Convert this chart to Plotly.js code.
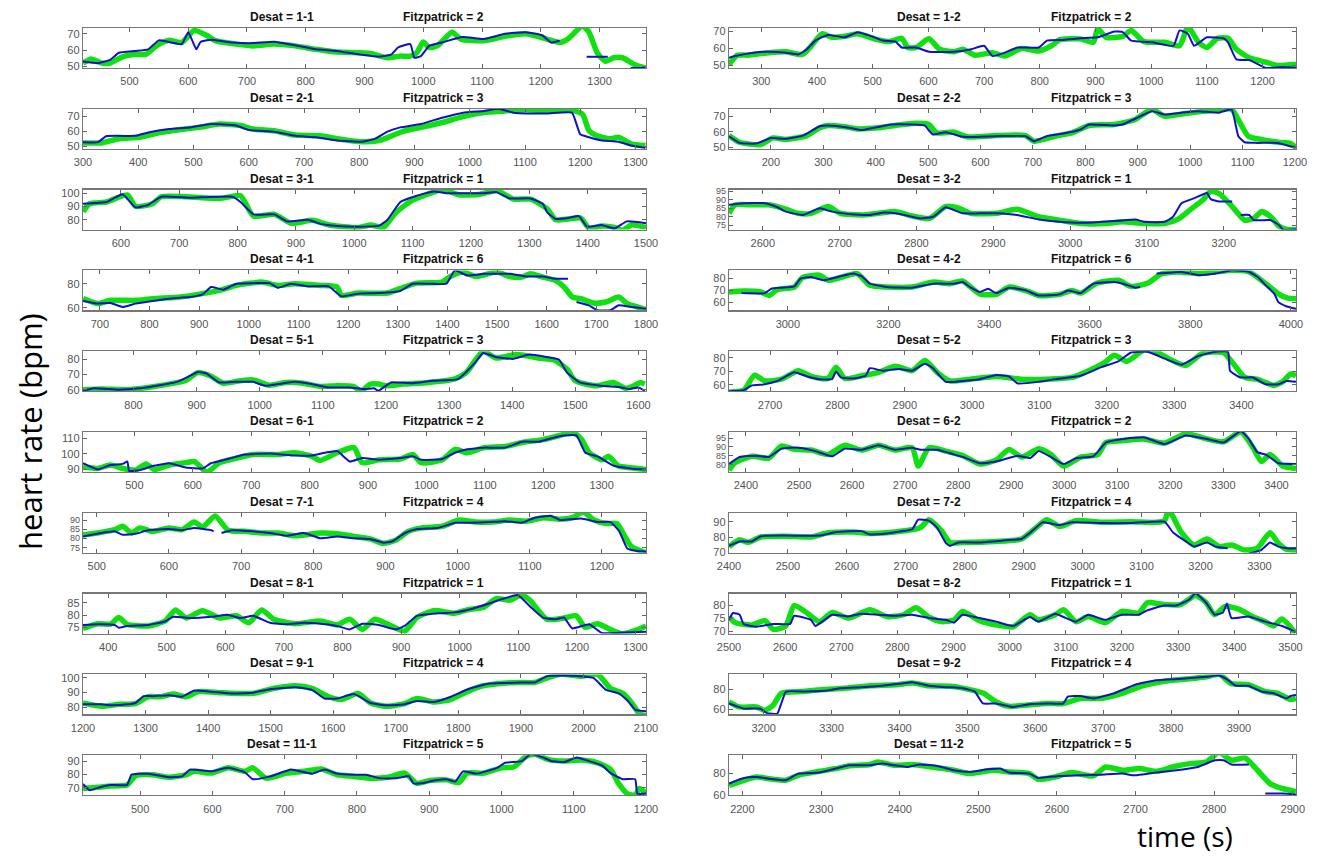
<!DOCTYPE html>
<html>
<head>
<meta charset="utf-8">
<script src="https://cdn.plot.ly/plotly-3.0.1.min.js"></script>
<style>html,body{margin:0;padding:0;background:#fff;}#chart{width:1319px;height:858px;}</style>
</head>
<body>
<div id="chart"></div>
<script>
// ---------- data: [time (s), heart rate (bpm)] ----------
const green_1_1 = [[421,52],[435,54.6],[453,52],[467,52],[489,56],[510,57.4],[528,57.4],[546,62.6],[567,66],[589,64.7],[610,72],[632,69],[646,65.8],[682,63.7],[710,62.6],[746,63.7],[782,62.6],[817,60.5],[853,58.8],[889,58.4],[910,58],[939,55.3],[960,56.3],[978,56.3],[989,58.4],[1000,65],[1010,61.6],[1024,62.6],[1049,71],[1064,66.8],[1103,65.8],[1139,68.5],[1174,70],[1210,66.8],[1232,64.7],[1246,66.8],[1271,74.8],[1282,71],[1296,58.4],[1310,53.1],[1324,55.3],[1339,55.3],[1360,51],[1378,49]];
const blue_1_1 = [[421,53],[446,52],[467,54],[482,58.4],[510,59.5],[532,60.5],[550,66],[567,65],[589,63.7],[600,71],[607,65.8],[614,60.5],[621,65],[639,66.4],[675,64.7],[710,64.3],[746,65.2],[782,63],[817,60.5],[853,59.5],[889,57.4],[925,56],[946,57.4],[957,61.6],[978,63.7],[985,55.3],[996,56.3],[1010,62.6],[1032,64.7],[1067,68],[1103,66.8],[1139,70],[1174,71],[1203,69],[1217,64.7],[1232,65.8],[1240,null],[1278,55.9],[1314,55.9],[1320,null],[1353,49],[1378,49]];
const green_2_1 = [[300,52.2],[334,52.2],[365,55],[403,56],[441,59.3],[471,61],[509,62.7],[547,65],[585,64],[608,61.6],[646,60.4],[684,57.5],[729,57],[760,55],[805,53],[836,53.8],[859,57],[882,60.4],[912,62.7],[950,66],[988,70],[1026,72.7],[1064,73.8],[1102,74.9],[1140,73.8],[1178,74.9],[1204,71.6],[1216,60.4],[1231,57],[1254,55],[1269,56],[1292,51.6],[1318,50.4]];
const blue_2_1 = [[300,52.7],[327,52.7],[342,56.7],[395,57],[418,59.3],[456,61.6],[494,62.7],[532,65],[577,64],[600,61],[646,59.8],[684,57],[722,56],[760,53.8],[805,53],[828,54.9],[851,59.8],[874,62.7],[912,65],[950,69.3],[988,72.7],[1026,73.8],[1052,75.3],[1079,72.7],[1140,72.2],[1185,72.7],[1200,58],[1216,56],[1239,53.8],[1269,53],[1292,50.4],[1318,48.7]];
const green_3_1 = [[535,85.9],[546,92],[575,93.3],[611,98.7],[625,90.1],[654,92],[669,97.3],[712,97.3],[770,96],[805,98.1],[827,82.7],[863,84],[892,77.3],[928,79.5],[957,76],[1007,74.1],[1028,76],[1050,74.1],[1071,85.3],[1100,94.7],[1136,100.8],[1151,102.7],[1180,98.7],[1216,99.2],[1244,101.9],[1273,95.5],[1302,95.5],[1331,88],[1345,80],[1367,80.5],[1388,81.3],[1403,73.3],[1424,75.2],[1446,74.1],[1460,72],[1475,76],[1500,74.1]];
const blue_3_1 = [[535,92],[575,93.3],[589,96.5],[603,99.2],[625,89.3],[647,91.2],[669,97.3],[719,96.5],[791,97.3],[805,93.3],[827,84],[863,84],[885,78.7],[921,80],[942,76.8],[971,75.2],[1007,74.7],[1043,75.5],[1057,80],[1079,93.3],[1107,98.1],[1136,101.3],[1158,100],[1187,100],[1223,100],[1244,100.8],[1266,96],[1302,96],[1323,92],[1331,85.3],[1345,80.5],[1367,81.3],[1385,82.7],[1399,74.7],[1424,76],[1446,73.3],[1467,78.7],[1500,77.3]];
const green_4_1 = [[666,67.7],[696,63.6],[721,66.3],[772,66.3],[806,67.7],[861,69],[898,71.2],[941,74.5],[975,78.6],[1026,81.4],[1059,78.6],[1093,80],[1144,78.6],[1178,77.3],[1186,70.4],[1220,72.3],[1279,72.3],[1313,77.3],[1339,80.5],[1389,81.4],[1406,86],[1432,89.6],[1457,86],[1499,89.6],[1525,86],[1550,85.5],[1567,88.2],[1592,85.5],[1618,82.7],[1635,77.3],[1652,69],[1669,67.7],[1694,64.1],[1719,64.9],[1745,69],[1762,63.6],[1779,61.4],[1800,58.6]];
const blue_4_1 = [[666,65.8],[696,63.6],[721,64.1],[746,60.8],[772,63.6],[806,65.8],[839,67.7],[882,69],[907,71.2],[924,77.3],[949,75.1],[975,80],[1009,80.5],[1042,80.5],[1059,76.7],[1085,80],[1119,77.8],[1161,77.8],[1186,69.6],[1220,71.8],[1262,72.3],[1305,74],[1330,80],[1364,80],[1398,80],[1415,91],[1440,86.8],[1474,88.2],[1499,88.2],[1525,88.2],[1558,86],[1592,86],[1618,84.1],[1643,84.1],[1650,null],[1660,65],[1685,62.2],[1702,58.1],[1728,58.1],[1745,62.2],[1770,60.8],[1800,59.5]];
const green_5_1 = [[720,60],[750,60.4],[790,60],[823,61.5],[856,63.7],[882,65.9],[902,71.3],[922,69.1],[942,64.3],[969,65.9],[989,66.5],[1015,63],[1042,64.8],[1069,64.3],[1095,62.2],[1122,62.6],[1148,62.2],[1161,59.3],[1175,63.7],[1188,63.7],[1201,62.6],[1228,63.7],[1268,64.8],[1308,67],[1327,71.3],[1354,85.4],[1374,81],[1407,83.3],[1441,81],[1467,79.6],[1487,73.5],[1500,65.9],[1533,62.6],[1560,64.8],[1580,60.9],[1593,62.6],[1603,64.8],[1610,63.7]];
const blue_5_1 = [[720,59.3],[737,60.9],[776,60],[810,60.9],[836,62.6],[869,65.2],[889,69.1],[902,71.7],[915,70.9],[936,64.8],[962,65.2],[989,65.2],[1009,62.6],[1029,63.7],[1055,65.2],[1082,63.7],[1108,61.5],[1142,61.5],[1168,60.4],[1181,60.9],[1188,59.3],[1208,64.8],[1241,64.3],[1274,65.9],[1314,67],[1341,77.8],[1354,84.3],[1374,81.7],[1401,80.4],[1427,83.3],[1454,81.7],[1474,80],[1487,71.3],[1507,64.8],[1540,62.6],[1573,61.5],[1586,60.4],[1600,61.5],[1610,59.3]];
const green_6_1 = [[412,91.8],[437,90.7],[459,92.9],[480,90.7],[502,89.6],[520,93.6],[534,90],[560,92.9],[588,94.4],[603,95.1],[624,88.4],[646,94.4],[675,97.3],[703,99.6],[746,99.6],[775,100.7],[804,98.4],[818,95.8],[847,100.7],[876,104],[890,94.4],[919,96.2],[955,96.7],[977,99.6],[991,94.4],[1027,96.2],[1049,102.9],[1070,100.7],[1099,104],[1135,104.7],[1164,107.3],[1200,109.1],[1229,111.8],[1250,114],[1265,109.6],[1279,100.7],[1301,96.2],[1312,98.4],[1329,92.2],[1350,91.1],[1376,90]];
const blue_6_1 = [[412,94],[437,90],[459,92.9],[480,93.6],[488,95.1],[491,89.1],[509,89.6],[531,92.2],[560,94],[588,91.3],[617,90.7],[631,94],[660,96.7],[689,99.6],[732,100.2],[775,98.9],[804,98.9],[826,100.7],[847,101.8],[869,95.1],[890,97.3],[919,96.2],[955,97.3],[977,98.4],[991,96.2],[1027,96.7],[1049,100.7],[1070,102.9],[1099,104],[1135,104],[1164,107.8],[1193,107.8],[1221,110.7],[1236,111.8],[1257,111.8],[1272,100.7],[1293,98.4],[1322,92.2],[1350,90.7],[1376,90]];
const green_7_1 = [[481,81.9],[501,82.9],[525,84.7],[536,86.6],[548,82.9],[560,85.7],[577,83.8],[600,85.7],[618,84.7],[635,88.9],[647,86.2],[664,92.3],[682,84.4],[705,83.8],[729,82.9],[752,82.9],[775,81.4],[810,82.9],[833,82.5],[857,81],[880,79.5],[897,77.2],[915,79.1],[932,83.8],[950,85.7],[979,86.6],[1002,90],[1025,88.9],[1049,88.9],[1072,90],[1095,89.4],[1119,91.3],[1142,90.4],[1159,91.3],[1174,94.5],[1189,90],[1206,88.1],[1221,88.1],[1229,82.9],[1241,75.4],[1261,72]];
const blue_7_1 = [[481,81],[507,82.9],[525,83.8],[536,81.9],[554,82.5],[571,84.4],[600,85.1],[618,84.4],[635,85.7],[659,84.4],[662,83.8],[667,null],[673,82.9],[688,84.4],[717,83.8],[740,82.9],[763,81.4],[787,82.9],[810,80],[833,81],[857,80],[880,79.5],[897,77.6],[909,78.2],[927,82.9],[944,85.1],[973,85.7],[997,88.5],[1020,88.5],[1043,88.9],[1066,89.4],[1089,88.5],[1107,91.3],[1130,92.3],[1142,90],[1171,90.8],[1194,88.9],[1212,88.9],[1224,83.8],[1235,74.4],[1247,73.1],[1261,72.6]];
const green_8_1 = [[357,74.6],[382,76.5],[404,76.3],[418,79],[432,76.3],[468,75.6],[497,77.6],[515,82.1],[533,78.8],[561,81.8],[590,78.8],[619,79.7],[640,76.9],[662,82.1],[683,78.3],[719,76.5],[762,77.6],[791,76],[812,78.3],[834,74.2],[855,78.3],[884,75.6],[906,73.5],[927,79],[956,81.8],[991,80.7],[1013,82.1],[1041,83.2],[1063,86.7],[1085,86],[1106,88.1],[1120,86],[1149,78.3],[1178,78.8],[1199,79.7],[1214,75.1],[1235,76.5],[1257,74.2],[1278,72.4],[1300,73.8],[1318,75.6]];
const blue_8_1 = [[357,76],[382,76.3],[411,76],[418,74.9],[432,75.6],[468,76],[497,77.4],[511,79.3],[540,78.8],[576,79.3],[604,80.1],[626,78.8],[647,79.7],[676,76.9],[705,76.3],[733,76.9],[762,76.5],[791,75.6],[812,74.2],[834,76.5],[862,76],[891,74.2],[906,75.6],[927,79.7],[963,80.7],[991,81.1],[1020,82.5],[1049,84.6],[1070,86.3],[1099,88.1],[1120,83.5],[1142,79],[1164,78.3],[1178,79],[1192,74.6],[1221,76.3],[1242,72.8],[1271,72.8],[1318,73.2]];
const green_9_1 = [[1200,82.8],[1230,80.5],[1257,81.9],[1284,82.4],[1304,87.1],[1324,87.1],[1344,88.9],[1365,87.1],[1385,90.6],[1418,89.9],[1445,89.4],[1472,89.4],[1506,92.9],[1539,94.6],[1566,92.9],[1593,87.1],[1613,85.2],[1640,89.4],[1660,82.8],[1687,80.5],[1714,82.4],[1734,85.9],[1761,83.5],[1788,85.2],[1808,89.4],[1835,94.1],[1862,96],[1896,96.9],[1922,96.9],[1942,100],[1962,102.4],[1996,101.2],[2023,102.4],[2043,92.9],[2063,89.4],[2076,83.5],[2090,75.3],[2100,74.1]];
const blue_9_1 = [[1200,81.9],[1230,81.9],[1244,81.2],[1271,81.9],[1284,82.8],[1297,87.5],[1311,87.5],[1338,88.2],[1358,87.1],[1378,91.3],[1405,90.6],[1438,89.4],[1472,89.9],[1499,92.2],[1539,93.6],[1566,91.8],[1586,85.9],[1606,85.9],[1633,88.9],[1660,82.8],[1687,81.2],[1714,81.9],[1734,84.2],[1761,83.5],[1788,87.1],[1815,92.2],[1848,96],[1875,96.5],[1902,96.9],[1922,96.9],[1942,101.2],[1969,101.6],[1996,101.2],[2016,100],[2036,91.8],[2056,89.4],[2070,84.7],[2083,78.1],[2100,77.2]];
const green_11_1 = [[421,69.5],[441,70.3],[459,71.3],[482,72.1],[494,79],[517,79.7],[540,77.9],[563,79.7],[575,82.3],[598,81],[622,84.9],[645,82.3],[656,84.9],[674,77.2],[703,81],[727,82.3],[750,84.1],[773,79.7],[796,78.5],[819,77.2],[843,77.9],[866,81],[883,73.3],[901,75.4],[924,75.9],[941,73.8],[953,81],[976,81],[1000,84.9],[1017,85.6],[1035,93.8],[1047,95.1],[1064,91.3],[1087,90],[1110,90.8],[1133,88.7],[1151,83.6],[1162,73.3],[1174,65.6],[1185,64.4],[1191,69.5],[1200,65.6]];
const blue_11_1 = [[421,72.8],[430,68.2],[447,70.8],[459,72.1],[482,72.1],[488,79.7],[511,80.5],[540,77.9],[558,78.5],[569,83.6],[598,82.3],[622,84.9],[645,81.5],[656,76.4],[680,78.5],[709,83.6],[738,80.5],[755,83.6],[773,80.5],[796,79.7],[813,79.7],[831,77.2],[854,77.2],[872,78.5],[878,73.3],[889,73.3],[907,75.4],[924,76.4],[936,74.6],[947,82.3],[965,80.5],[994,84.9],[1005,88.7],[1028,90],[1040,95.1],[1058,92.6],[1069,90],[1087,89.2],[1104,92.6],[1121,90],[1139,86.7],[1151,81],[1168,76.4],[1185,76.4],[1188,65.6],[1200,65.6]];

const green_1_2 = [[242,50.6],[257,56],[276,56],[314,57.5],[344,58],[374,56.5],[390,61.5],[409,68.4],[427,66.4],[450,67],[473,68.4],[503,65.5],[530,63.9],[552,65.8],[563,60.5],[578,60.5],[601,65.5],[620,59.5],[646,58],[662,59.5],[684,56],[715,57.5],[737,55.5],[767,59.9],[798,58.5],[821,61.5],[836,65],[873,65.5],[896,63.5],[904,71.4],[919,66.4],[949,67],[964,70.4],[987,63.9],[1025,63.5],[1051,61.5],[1066,72.4],[1085,63.5],[1100,60.5],[1119,65.8],[1138,65.8],[1153,59.5],[1176,54.5],[1206,52],[1228,50],[1251,50.6],[1260,50.6]];
const blue_1_2 = [[242,54.6],[253,55.5],[268,56.5],[306,58],[344,57.5],[367,56.5],[382,59.5],[397,64.5],[420,67.8],[450,66.4],[473,69.4],[495,67.4],[518,64.5],[541,63.9],[552,60.5],[578,60.5],[601,58],[646,58],[677,59.5],[700,61.5],[715,55.5],[737,57.5],[760,60.5],[798,60.5],[813,64.5],[843,64.9],[873,65.8],[904,66.4],[934,69.8],[949,69.4],[964,64.5],[1002,63.5],[1040,61.5],[1051,70.4],[1066,68.4],[1077,61.5],[1100,66.4],[1130,65.8],[1138,63.5],[1153,53.6],[1176,53.2],[1206,48.6],[1236,49.2],[1260,48.6]];
const green_2_2 = [[120,57.5],[140,53.2],[180,51.7],[204,56],[228,55],[269,57.5],[293,62.5],[309,64],[341,63.1],[365,61.8],[405,62.5],[437,64],[469,65.3],[501,64.6],[517,59.2],[550,59.7],[574,56.7],[630,57.5],[686,57.5],[702,53.9],[742,57.1],[774,59.2],[807,64],[855,64.6],[895,67.8],[927,74.3],[951,70],[991,71.7],[1031,73.2],[1079,74.3],[1095,65.7],[1111,57.1],[1135,55],[1168,53.2],[1192,52.4],[1202,49.6]];
const blue_2_2 = [[120,57],[140,52.8],[172,52.4],[200,56],[228,55.4],[261,57.5],[293,63.5],[309,64],[349,62.5],[373,61],[429,64.6],[469,64.6],[493,64],[509,58.2],[534,59.7],[566,56.7],[630,57.1],[686,57.1],[702,53.9],[726,57.1],[758,58.8],[791,61.4],[807,64.6],[855,64],[871,64.6],[895,68.3],[927,73.2],[951,71],[983,72.2],[1015,73.2],[1055,72.2],[1079,74.3],[1092,57.1],[1104,53.2],[1128,52.8],[1168,52.8],[1202,49.6]];
const green_3_2 = [[2556,82],[2564,87],[2586,87],[2608,87],[2630,84.4],[2646,82],[2663,82],[2685,86],[2701,82],[2729,81],[2751,82],[2773,83],[2795,80.4],[2817,79],[2838,86],[2855,85],[2871,82],[2904,82],[2931,84.4],[2959,80],[2986,78],[3014,76],[3047,76],[3068,77],[3096,76],[3123,76],[3140,78.4],[3156,84],[3173,90],[3183,95],[3194,93.6],[3211,86],[3227,78],[3239,79],[3249,83],[3261,80],[3272,74.4],[3283,72.4],[3294,72.4]];
const blue_3_2 = [[2556,87],[2575,88],[2603,88],[2619,85.6],[2630,83],[2652,81],[2674,85],[2690,83],[2712,81.6],[2740,81],[2756,82.4],[2778,81.6],[2805,79],[2822,80],[2838,85.6],[2860,82],[2882,82],[2904,82],[2931,81],[2959,78.4],[2986,77],[3014,76.4],[3041,77],[3063,77.6],[3085,78.4],[3096,77],[3123,77],[3134,80],[3145,88],[3162,91],[3178,94],[3183,90.4],[3194,89],[3211,89],[3216,null],[3222,81],[3233,81],[3239,78],[3261,78],[3272,75],[3277,72.4],[3294,72.4]];
const green_4_2 = [[2883,68.6],[2912,69.4],[2946,68.6],[2963,65.7],[2979,70.6],[3013,72.9],[3029,80.9],[3063,82.9],[3080,78.6],[3113,82],[3138,84.3],[3163,74.3],[3197,72.9],[3247,72.9],[3289,77.1],[3322,75.7],[3347,78],[3381,67.1],[3414,66.6],[3440,72.9],[3481,68.6],[3498,65.7],[3540,66.6],[3565,70],[3582,67.7],[3615,76.3],[3657,78.6],[3682,73.4],[3716,76.3],[3741,83.7],[3774,85.7],[3817,84.3],[3850,85.7],[3883,87.1],[3917,85.7],[3950,75.7],[3975,67.1],[3992,63.7],[4010,62.9]];
const blue_4_2 = [[2908,67.7],[2954,67.7],[2967,71.4],[2988,72.3],[3013,73.4],[3025,80],[3046,81.4],[3071,78.6],[3105,82],[3130,84.3],[3147,82],[3163,75.7],[3197,72.9],[3247,72.3],[3289,75.7],[3331,75.7],[3347,77.1],[3364,72.3],[3381,68.6],[3398,71.4],[3414,67.7],[3440,72.3],[3473,70],[3498,65.7],[3540,66.6],[3557,70],[3582,67.7],[3607,75.7],[3649,77.1],[3666,75.7],[3691,72.3],[3700,72.9],[3716,null],[3733,84.3],[3783,85.7],[3817,82.9],[3850,84.3],[3883,87.1],[3917,85.7],[3934,81.4],[3950,74.3],[3967,67.1],[3975,60],[3992,56.3],[4010,54.3]];
const green_5_2 = [[2639,54.7],[2661,56.2],[2677,67.3],[2692,63],[2717,64.3],[2742,70.6],[2761,66.3],[2786,64.8],[2798,73.2],[2811,64.8],[2836,66.8],[2861,69.4],[2886,73.9],[2911,70.6],[2930,78.2],[2948,69.4],[2967,63],[2998,64.3],[3036,66.3],[3073,64.3],[3111,64.3],[3148,65.6],[3173,70.6],[3198,77],[3211,82],[3230,77.5],[3255,85.8],[3273,84.6],[3292,79.5],[3317,74.4],[3342,83.3],[3373,84],[3386,77],[3405,65.6],[3423,64.3],[3436,61.8],[3448,59.7],[3461,62.3],[3473,68.1],[3481,66.8]];
const blue_5_2 = [[2639,55.4],[2661,56.2],[2673,59.7],[2692,60.5],[2711,63],[2736,69.4],[2755,66.3],[2773,64.3],[2792,64.3],[2798,69.9],[2805,65.6],[2823,64.8],[2842,66.8],[2848,72.4],[2867,70.6],[2892,71.9],[2911,70.6],[2930,75.7],[2942,72.4],[2961,62.3],[2986,63],[3011,64.3],[3036,67.3],[3055,66.3],[3067,61.3],[3098,62.3],[3123,64.3],[3161,66.8],[3192,73.2],[3217,77.5],[3236,84],[3261,84.6],[3286,79.5],[3311,75],[3336,81.5],[3361,84.6],[3380,84.6],[3383,70.6],[3398,65.6],[3417,65.6],[3436,60.5],[3455,60.5],[3467,63],[3481,62.3]];
const green_6_2 = [[2368,76.6],[2380,81],[2412,84.6],[2443,83.6],[2467,90.6],[2491,88.6],[2523,88.2],[2554,85.6],[2586,91],[2618,88.2],[2650,91],[2681,88.2],[2713,89.6],[2725,79],[2745,89.6],[2777,87.6],[2809,85],[2841,80.2],[2872,82.6],[2896,88.6],[2920,84.2],[2952,89],[2975,85.6],[2999,79],[3031,84.2],[3063,85.6],[3079,92.6],[3110,93.6],[3150,94.6],[3189,92.2],[3229,97.6],[3269,94.6],[3301,93],[3333,98.6],[3356,89.6],[3372,81.6],[3388,85.6],[3412,79],[3437,77.6]];
const blue_6_2 = [[2368,80.2],[2388,84.2],[2420,85],[2443,84.2],[2467,89],[2499,89.6],[2531,87.6],[2563,84.6],[2586,89],[2618,88.4],[2650,91],[2681,88.4],[2713,89.6],[2729,88.4],[2761,88.4],[2793,85.6],[2809,84.2],[2841,80.6],[2872,81.6],[2912,85],[2936,83.6],[2952,87.6],[2975,84.2],[2999,80.2],[3023,83.6],[3055,84.6],[3079,92.6],[3110,94.6],[3150,95.6],[3189,91.6],[3229,96.6],[3269,94.6],[3301,92.6],[3333,99],[3348,94.6],[3364,87],[3380,85.6],[3404,80.6],[3437,80.2]];
const green_7_2 = [[2400,73.8],[2418,78.3],[2432,76.5],[2454,80.1],[2496,80.6],[2539,80.1],[2568,82.8],[2611,83.3],[2639,82.4],[2682,83.3],[2725,86.2],[2739,91.3],[2761,83.9],[2775,76.5],[2796,76.5],[2853,77.2],[2896,78.8],[2918,85.1],[2939,91.3],[2961,86.9],[2989,90.7],[3032,89.6],[3082,90],[3125,89.6],[3139,90.7],[3146,97.4],[3168,82.8],[3189,74.9],[3211,78.8],[3232,73.8],[3253,74.9],[3275,71.6],[3296,72.7],[3318,82.8],[3332,76.1],[3346,72],[3362,71.6]];
const blue_7_2 = [[2400,74.3],[2418,77.2],[2439,77.2],[2454,80.6],[2496,81],[2554,81],[2582,83.3],[2625,83.9],[2639,81.7],[2668,82.4],[2696,83.9],[2711,85.1],[2721,91.3],[2739,90.7],[2753,86.2],[2768,76.1],[2775,74.3],[2789,76.5],[2825,76.5],[2868,77.9],[2896,78.8],[2911,82.8],[2932,89.6],[2961,87.8],[2982,89.6],[3032,89.1],[3082,89.1],[3118,90],[3139,90],[3154,82.8],[3175,77.2],[3189,73.8],[3211,76.5],[3225,73.8],[3246,72.7],[3260,null],[3282,69.3],[3303,71.6],[3318,76.5],[3332,73.8],[3346,72.7],[3362,72.7]];
const green_8_2 = [[2500,75.7],[2511,73.3],[2541,72.4],[2564,74.1],[2579,70.7],[2601,72],[2616,80],[2639,77.1],[2661,73.7],[2684,77.3],[2713,75.1],[2751,78.4],[2781,75.7],[2811,76.4],[2833,79.1],[2856,75.5],[2878,73.7],[2901,74.4],[2916,77.7],[2946,74.1],[2976,72.4],[3006,71.7],[3036,76.4],[3051,74.4],[3081,76.4],[3096,78.4],[3118,73.7],[3140,75.7],[3170,73.3],[3200,77.7],[3230,77.1],[3245,81.1],[3275,80.4],[3305,80.4],[3331,84],[3350,81.1],[3365,76.4],[3384,79.7],[3410,78.4],[3432,75.7],[3455,73.7],[3470,72],[3485,74.7],[3509,69.1]];
const blue_8_2 = [[2500,74.4],[2507,77.1],[2519,76.4],[2526,72.8],[2549,71.7],[2579,72.8],[2609,72.8],[2616,76],[2646,74.4],[2654,72],[2684,76.4],[2713,75.7],[2736,76.8],[2766,76.4],[2796,76],[2826,76.4],[2856,75.1],[2886,74.4],[2901,73.3],[2916,76.4],[2946,75.1],[2976,73.7],[3006,72],[3036,75.5],[3051,73.7],[3081,76.8],[3096,75.5],[3118,73.7],[3140,76.4],[3170,74.4],[3200,76.4],[3230,76.4],[3245,78.1],[3275,80],[3297,80],[3320,82.4],[3331,84.8],[3350,81.1],[3365,76.4],[3380,77.3],[3387,80.8],[3395,75.1],[3425,75.7],[3455,73.7],[3485,72],[3509,69.7]];
const green_9_2 = [[3149,67.5],[3164,62.4],[3189,62.4],[3202,59],[3214,64.1],[3226,75.9],[3257,77.6],[3295,80],[3319,81],[3357,83.4],[3396,84.4],[3419,86.1],[3443,83.4],[3480,82.7],[3505,79.3],[3524,75.9],[3542,67.5],[3561,63],[3586,64.1],[3617,65.8],[3641,65.8],[3666,70.8],[3697,70.8],[3728,75.9],[3759,83.4],[3790,87.8],[3827,90.2],[3852,92.2],[3871,94.6],[3889,85.4],[3914,84.4],[3939,77.6],[3957,75.9],[3976,69.8],[3984,70.8]];
const blue_9_2 = [[3149,65.8],[3171,60.7],[3195,60.7],[3205,56.3],[3220,55.6],[3226,65.8],[3233,77.6],[3264,77.6],[3295,78.6],[3313,81],[3344,82],[3375,83.4],[3400,85.4],[3419,86.8],[3443,83.4],[3468,82],[3493,81],[3511,77.6],[3523,65.8],[3542,65.8],[3567,62.4],[3592,65.1],[3617,65.8],[3641,65.8],[3648,72.5],[3666,73.2],[3685,70.8],[3716,75.9],[3747,84.4],[3778,88.8],[3815,90.2],[3852,92.2],[3871,93.6],[3883,89.5],[3895,83.4],[3914,83.4],[3933,77.6],[3951,75.9],[3970,70.8],[3976,73.2],[3984,74.2]];
const green_11_2 = [[2183,68.9],[2202,73.7],[2218,76.8],[2239,74.6],[2255,73.7],[2271,78.4],[2298,82.2],[2319,84.8],[2335,87.3],[2362,88.6],[2372,91.1],[2393,87.9],[2415,88.6],[2441,86.3],[2469,83.2],[2490,80],[2517,83.2],[2539,81.6],[2565,80],[2576,74.6],[2597,76.8],[2619,81],[2646,77.8],[2662,86.3],[2683,83.2],[2705,84.8],[2726,82.2],[2747,86.3],[2769,89.5],[2790,91.1],[2806,100],[2822,92.7],[2839,94.9],[2855,83.2],[2871,70.5],[2887,65.7],[2898,64.1],[2904,62.5]];
const blue_11_2 = [[2183,70.5],[2202,75.9],[2218,76.8],[2234,75.2],[2255,73.7],[2271,80],[2298,81],[2319,84.8],[2335,87.9],[2362,87.9],[2378,89.5],[2393,87.9],[2409,86.3],[2426,88.6],[2448,87.3],[2469,83.2],[2490,81.6],[2512,84.1],[2528,84.8],[2539,81],[2565,80],[2576,75.9],[2603,77.8],[2630,78.4],[2656,79],[2683,80],[2699,78.4],[2726,81],[2752,83.2],[2779,86.3],[2801,92.7],[2812,92.7],[2822,88.6],[2844,88.6],[2855,null],[2865,61],[2887,61],[2904,60]];

// ---------- labels ----------
const desatLeft = ['1-1','2-1','3-1','4-1','5-1','6-1','7-1','8-1','9-1','11-1'];
const desatRight = ['1-2','2-2','3-2','4-2','5-2','6-2','7-2','8-2','9-2','11-2'];
const fitzpatrick = [2,3,1,6,3,2,4,1,4,5];
const greenLeft = [green_1_1,green_2_1,green_3_1,green_4_1,green_5_1,green_6_1,green_7_1,green_8_1,green_9_1,green_11_1];
const blueLeft = [blue_1_1,blue_2_1,blue_3_1,blue_4_1,blue_5_1,blue_6_1,blue_7_1,blue_8_1,blue_9_1,blue_11_1];
const greenRight = [green_1_2,green_2_2,green_3_2,green_4_2,green_5_2,green_6_2,green_7_2,green_8_2,green_9_2,green_11_2];
const blueRight = [blue_1_2,blue_2_2,blue_3_2,blue_4_2,blue_5_2,blue_6_2,blue_7_2,blue_8_2,blue_9_2,blue_11_2];
const yTicksLeft = [[50,60,70],[50,60,70],[80,90,100],[60,80],[60,70,80],[90,100,110],[75,80,85,90],[75,80,85],[80,90,100],[70,80,90]];
const yTicksRight = [[50,60,70],[50,60,70],[75,80,85,90,95],[60,70,80],[60,70,80],[80,85,90,95],[70,80,90],[70,75,80],[60,80],[60,80]];

// ---------- axis view settings ----------
const xRangeLeft = [[421,1379],[300,1319],[535,1500],[666,1800],[720,1612],[412,1376],[481,1261],[357,1318],[1200,2100],[421,1200]];
const xRangeRight = [[242,1260],[120,1202],[2556,3294],[2883,4010],[2639,3481],[2368,3437],[2400,3362],[2500,3510],[3149,3984],[2183,2904]];
const yRangeLeft = [[49,73.6],[48.2,75.3],[72.5,102.7],[58,91],[59,85.5],[88.4,114],[72,94],[72.5,88.7],[75,102.4],[64.4,94.4]];
const yRangeRight = [[48.6,71.8],[49,74.7],[72.4,96],[53,87],[55.4,85],[75.6,98.6],[69.8,95.8],[69,84.7],[55,94.6],[59.5,97.5]];
const xDtickRight = [100,100,100,200,100,100,100,100,100,100];

const W = 1319, H = 858;
const colX = [[83, 646], [729, 1296]];
const traces = [];
const layout = {
  width: W, height: H,
  margin: {l:0, r:0, t:0, b:0},
  paper_bgcolor: '#fff', plot_bgcolor: '#fff',
  showlegend: false,
  annotations: []
};
const tickFont = {family: 'Liberation Sans, Arial, sans-serif', size: 11, color: '#555'};
const tickFontSmall = {family: 'Liberation Sans Narrow, Liberation Sans, Arial, sans-serif', size: 9, color: '#555'};
let n = 0;
for (let col = 0; col < 2; col++) {
  for (let r = 0; r < 10; r++) {
    n++;
    const sfx = n === 1 ? '' : String(n);
    const green = col === 0 ? greenLeft[r] : greenRight[r];
    const blue = col === 0 ? blueLeft[r] : blueRight[r];
    traces.push({type:'scatter', mode:'lines', x: green.map(d=>d[0]), y: green.map(d=>d[1]),
      xaxis:'x'+sfx, yaxis:'y'+sfx, line:{color:'#10e010', width:5.5, shape:'spline', smoothing:0.6}, hoverinfo:'skip'});
    traces.push({type:'scatter', mode:'lines', x: blue.map(d=>d[0]), y: blue.map(d=>d[1]),
      xaxis:'x'+sfx, yaxis:'y'+sfx, line:{color:'#1010c8', width:2, shape:'spline', smoothing:0.4}, hoverinfo:'skip'});
    const top = 28 + 80.8 * r, bot = top + 40;
    const [x0, x1] = colX[col];
    const yt = col === 0 ? yTicksLeft[r] : yTicksRight[r];
    layout['xaxis'+sfx] = {
      domain:[x0/W, x1/W], anchor:'y'+sfx,
      range: col === 0 ? xRangeLeft[r] : xRangeRight[r],
      tick0: 0, dtick: col === 0 ? 100 : xDtickRight[r],
      ticks:'inside', ticklen:4, tickcolor:'#666', mirror:'ticks',
      showline:true, linecolor:'#777', linewidth:1.2, showgrid:false, zeroline:false,
      tickfont: tickFont, ticklabelstandoff: 3
    };
    layout['yaxis'+sfx] = {
      domain:[1 - bot/H, 1 - top/H], anchor:'x'+sfx,
      range: col === 0 ? yRangeLeft[r] : yRangeRight[r],
      tickvals: yt,
      ticks:'inside', ticklen:4, tickcolor:'#666', mirror:'ticks',
      showline:true, linecolor:'#777', linewidth:1.2, showgrid:false, zeroline:false,
      tickfont: yt.length > 3 ? tickFontSmall : tickFont
    };
    const titleY = 1 - (top - 11) / H;
    const wpx = x1 - x0;
    layout.annotations.push({xref:'paper', yref:'paper', x:(x0 + 0.353*wpx)/W, y:titleY, xanchor:'center', yanchor:'middle',
      text:'<b>Desat = ' + (col === 0 ? desatLeft[r] : desatRight[r]) + '</b>', showarrow:false,
      font:{family:'Liberation Sans, Arial, sans-serif', size:12, color:'#111'}});
    layout.annotations.push({xref:'paper', yref:'paper', x:(x0 + 0.64*wpx)/W, y:titleY, xanchor:'center', yanchor:'middle',
      text:'<b>Fitzpatrick = ' + fitzpatrick[r] + '</b>', showarrow:false,
      font:{family:'Liberation Sans, Arial, sans-serif', size:12, color:'#111'}});
  }
}
layout.annotations.push({xref:'paper', yref:'paper', x:30/W, y:1 - 432/H, xanchor:'center', yanchor:'middle',
  text:'heart rate (bpm)', textangle:-90, showarrow:false, font:{family:'Open Sans, sans-serif', size:31, color:'#000'}});
layout.annotations.push({xref:'paper', yref:'paper', x:1185/W, y:1 - 836/H, xanchor:'center', yanchor:'middle',
  text:'time (s)', showarrow:false, font:{family:'Open Sans, sans-serif', size:28, color:'#000'}});

Plotly.newPlot('chart', traces, layout, {staticPlot:true, displayModeBar:false});
</script>
</body>
</html>
